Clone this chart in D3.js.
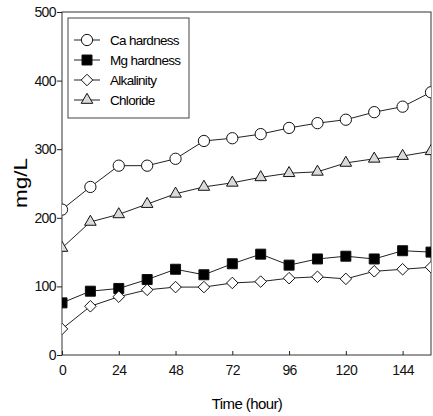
<!DOCTYPE html>
<html>
<head>
<meta charset="utf-8">
<script src="https://cdn.jsdelivr.net/npm/d3@7"></script>
<style>
  body { margin: 0; background: #fff; }
  svg { font-family: "Liberation Sans", Arial, sans-serif; }
  .axis text { font-size: 14px; fill: #111; letter-spacing: -0.6px; }
  .axis path, .axis line { stroke: #222; }
</style>
</head>
<body>
<svg id="chart" width="433" height="416"></svg>
<script>
// time in hours
var hours = [0, 12, 24, 36, 48, 60, 72, 84, 96, 108, 120, 132, 144, 156];

var caHardness = [212, 245, 276, 276, 286, 312, 316, 322, 331, 338, 343, 354, 362, 383];
var mgHardness = [76, 93, 97, 110, 125, 117, 133, 147, 131, 140, 144, 140, 152, 150];
var alkalinity = [38, 71, 85, 95, 99, 99, 105, 107, 112, 114, 111, 122, 125, 128];
var chloride = [156, 194, 205, 220, 235, 245, 251, 259, 265, 267, 280, 286, 290, 297];

var seriesNames = ["Ca hardness", "Mg hardness", "Alkalinity", "Chloride"];
var xTicks = [0, 24, 48, 72, 96, 120, 144];
var yTicks = [0, 100, 200, 300, 400, 500];

var svg = d3.select("#chart"),
    plotLeft = 62, plotRight = 431, plotTop = 12, plotBottom = 355;

var x = d3.scaleLinear().domain([0, 156]).range([plotLeft, plotRight]);
var y = d3.scaleLinear().domain([0, 500]).range([plotBottom, plotTop]);

// frame
svg.append("rect")
    .attr("x", plotLeft).attr("y", plotTop)
    .attr("width", plotRight - plotLeft).attr("height", plotBottom - plotTop)
    .attr("fill", "none").attr("stroke", "#333").attr("stroke-width", 1);

svg.append("g")
    .attr("class", "axis")
    .attr("transform", "translate(0," + plotBottom + ")")
    .call(d3.axisBottom(x).tickValues(xTicks).tickSize(-4).tickPadding(10).tickSizeOuter(0))
    .select(".domain").remove();

svg.append("g")
    .attr("class", "axis")
    .attr("transform", "translate(" + plotLeft + ",0)")
    .call(d3.axisLeft(y).tickValues(yTicks).tickSize(5).tickPadding(1).tickSizeOuter(0))
    .select(".domain").remove();

svg.append("text")
    .attr("x", 247).attr("y", 409)
    .attr("text-anchor", "middle")
    .attr("font-size", 15).attr("letter-spacing", -0.6)
    .text("Time (hour)");

svg.append("text")
    .attr("transform", "translate(27,183) rotate(-90)")
    .attr("text-anchor", "middle")
    .attr("font-size", 18)
    .attr("textLength", 50)
    .attr("lengthAdjust", "spacingAndGlyphs")
    .text("mg/L");

svg.append("clipPath").attr("id", "plotclip")
    .append("rect")
    .attr("x", plotLeft).attr("y", plotTop - 10)
    .attr("width", plotRight - plotLeft).attr("height", plotBottom - plotTop + 20);

var symCircle = d3.symbol().type(d3.symbolCircle).size(100);
var symSquare = d3.symbol().type(d3.symbolSquare).size(100);
var symDiamond = d3.symbol().type(d3.symbolDiamond2).size(85);
var symTriangle = d3.symbol().type(d3.symbolTriangle).size(58);

var series = [
    { name: seriesNames[0], values: caHardness, sym: symCircle, fill: "#fff" },
    { name: seriesNames[1], values: mgHardness, sym: symSquare, fill: "#000" },
    { name: seriesNames[2], values: alkalinity, sym: symDiamond, fill: "#fff" },
    { name: seriesNames[3], values: chloride, sym: symTriangle, fill: "#dadada" }
];

var line = d3.line()
    .x(function(d, i) { return x(hours[i]); })
    .y(function(d) { return y(d); });

var plot = svg.append("g").attr("clip-path", "url(#plotclip)");

series.forEach(function(s) {
    plot.append("path")
        .attr("d", line(s.values))
        .attr("fill", "none")
        .attr("stroke", "#222")
        .attr("stroke-width", 1);

    plot.selectAll(null)
        .data(s.values)
        .enter().append("path")
        .attr("d", s.sym)
        .attr("transform", function(d, i) {
            return "translate(" + x(hours[i]) + "," + y(d) + ")";
        })
        .attr("fill", s.fill)
        .attr("stroke", "#111")
        .attr("stroke-width", 1);
});

// legend
var legend = svg.append("g");
legend.append("rect")
    .attr("x", 68).attr("y", 18)
    .attr("width", 121).attr("height", 100)
    .attr("fill", "#fff").attr("stroke", "#444");

series.forEach(function(s, i) {
    var ly = 40 + i * 20;
    legend.append("line")
        .attr("x1", 74).attr("x2", 100)
        .attr("y1", ly).attr("y2", ly)
        .attr("stroke", "#222");
    legend.append("path")
        .attr("d", s.sym)
        .attr("transform", "translate(87," + ly + ")")
        .attr("fill", s.fill)
        .attr("stroke", "#111");
    legend.append("text")
        .attr("x", 110).attr("y", ly + 5)
        .attr("font-size", 13.5)
        .attr("letter-spacing", -0.7)
        .text(s.name);
});
</script>
</body>
</html>
